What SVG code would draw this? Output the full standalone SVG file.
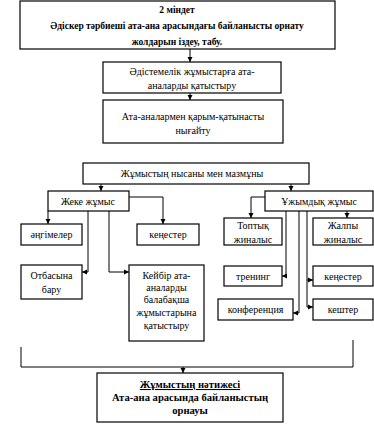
<svg xmlns="http://www.w3.org/2000/svg" width="374" height="442" viewBox="0 0 374 442">
<style>
rect{fill:#fff;stroke:#000;stroke-width:1.2}
text{font-family:"Liberation Serif","Times New Roman",serif;font-size:10px;text-anchor:middle;fill:#000}
.b{font-weight:bold;font-size:9.5px}
.r{font-weight:bold;font-size:10.6px}
.c{fill:none;stroke:#000;stroke-width:1}
</style>
<defs>
<marker id="ar" markerUnits="userSpaceOnUse" markerWidth="6" markerHeight="6" refX="5" refY="3" orient="auto">
<path d="M0,0.5 L5,3 L0,5.5 Z" fill="#000"/>
</marker>
</defs>
<rect x="0" y="0" width="374" height="442" style="stroke:none"/>
<g id="connectors">
<path class="c" d="M190,49 V62" marker-end="url(#ar)"/>
<path class="c" d="M190,93 V100" marker-end="url(#ar)"/>
<path class="c" d="M101,184 V191" marker-end="url(#ar)"/>
<path class="c" d="M291,184 V191" marker-end="url(#ar)"/>
<path class="c" d="M48,211 V224" marker-end="url(#ar)"/>
<path class="c" d="M129,197 H163 V224" marker-end="url(#ar)"/>
<path class="c" d="M88,211 V272 H82" marker-end="url(#ar)"/>
<path class="c" d="M109,211 V272 H129" marker-end="url(#ar)"/>
<path class="c" d="M265,197 H251 V218" marker-end="url(#ar)"/>
<path class="c" d="M347,211 V218" marker-end="url(#ar)"/>
<path class="c" d="M286,211 V276 H282" marker-end="url(#ar)"/>
<path class="c" d="M299,211 V313 H293" marker-end="url(#ar)"/>
<path class="c" d="M307,211 V307 H313" marker-end="url(#ar)"/>
<path class="c" d="M307,280 H313" marker-end="url(#ar)"/>
<path class="c" d="M21,347 V367 H353 V340"/>
<path class="c" d="M183,367 V373" marker-end="url(#ar)"/>
</g>
<g id="n1">
<rect x="20" y="1" width="315" height="48"/>
<text class="b" x="177" y="13">2 міндет</text>
<text class="b" x="177" y="29">Әдіскер тәрбиеші ата-ана арасындағы байланысты орнату</text>
<text class="b" x="177" y="45">жолдарын іздеу, табу.</text>
</g>
<g id="n2">
<rect x="103" y="62" width="178" height="31"/>
<text x="192" y="75">Әдістемелік жұмыстарға ата-</text>
<text x="192" y="89">аналарды қатыстыру</text>
</g>
<g id="n3">
<rect x="103" y="100" width="180" height="43"/>
<text x="193" y="120">Ата-аналармен қарым-қатынасты</text>
<text x="193" y="134">нығайту</text>
</g>
<g id="n4">
<rect x="83" y="163" width="226" height="21"/>
<text x="192" y="177">Жұмыстың нысаны мен мазмұны</text>
</g>
<g id="n5">
<rect x="48" y="191" width="81" height="20"/>
<text x="88" y="205">Жеке жұмыс</text>
</g>
<g id="n6">
<rect x="265" y="191" width="108" height="20"/>
<text x="319" y="205">Ұжымдық жұмыс</text>
</g>
<g id="n7">
<rect x="21" y="224" width="61" height="21"/>
<text x="51.5" y="238">әңгімелер</text>
</g>
<g id="n8">
<rect x="137" y="224" width="62" height="21"/>
<text x="168" y="238">кеңестер</text>
</g>
<g id="n9">
<rect x="21" y="265" width="61" height="34"/>
<text x="51.5" y="279">Отбасына</text>
<text x="51.5" y="293">бару</text>
</g>
<g id="n10">
<rect x="129" y="265" width="75" height="76"/>
<text x="166.5" y="279">Кейбір ата-</text>
<text x="166.5" y="291">аналарды</text>
<text x="166.5" y="303">балабақша</text>
<text x="166.5" y="316">жұмыстарына</text>
<text x="166.5" y="329">қатыстыру</text>
</g>
<g id="n11">
<rect x="224" y="218" width="58" height="27"/>
<text x="253" y="229">Топтық</text>
<text x="253" y="243">жиналыс</text>
</g>
<g id="n12">
<rect x="313" y="218" width="60" height="27"/>
<text x="343" y="229">Жалпы</text>
<text x="343" y="243">жиналыс</text>
</g>
<g id="n13">
<rect x="224" y="266" width="58" height="20"/>
<text x="253" y="280">тренинг</text>
</g>
<g id="n14">
<rect x="313" y="266" width="60" height="20"/>
<text x="343" y="280">кеңестер</text>
</g>
<g id="n15">
<rect x="313" y="299" width="60" height="21"/>
<text x="343" y="313">кештер</text>
</g>
<g id="n16">
<rect x="218" y="299" width="75" height="21"/>
<text x="255.5" y="313">конференция</text>
</g>
<g id="n17">
<rect x="97" y="373" width="186" height="49"/>
<text class="r" x="190" y="388" text-decoration="underline">Жұмыстың нәтижесі</text>
<text class="r" x="190" y="401">Ата-ана арасында байланыстың</text>
<text class="r" x="190" y="414">орнауы</text>
</g>
</svg>
